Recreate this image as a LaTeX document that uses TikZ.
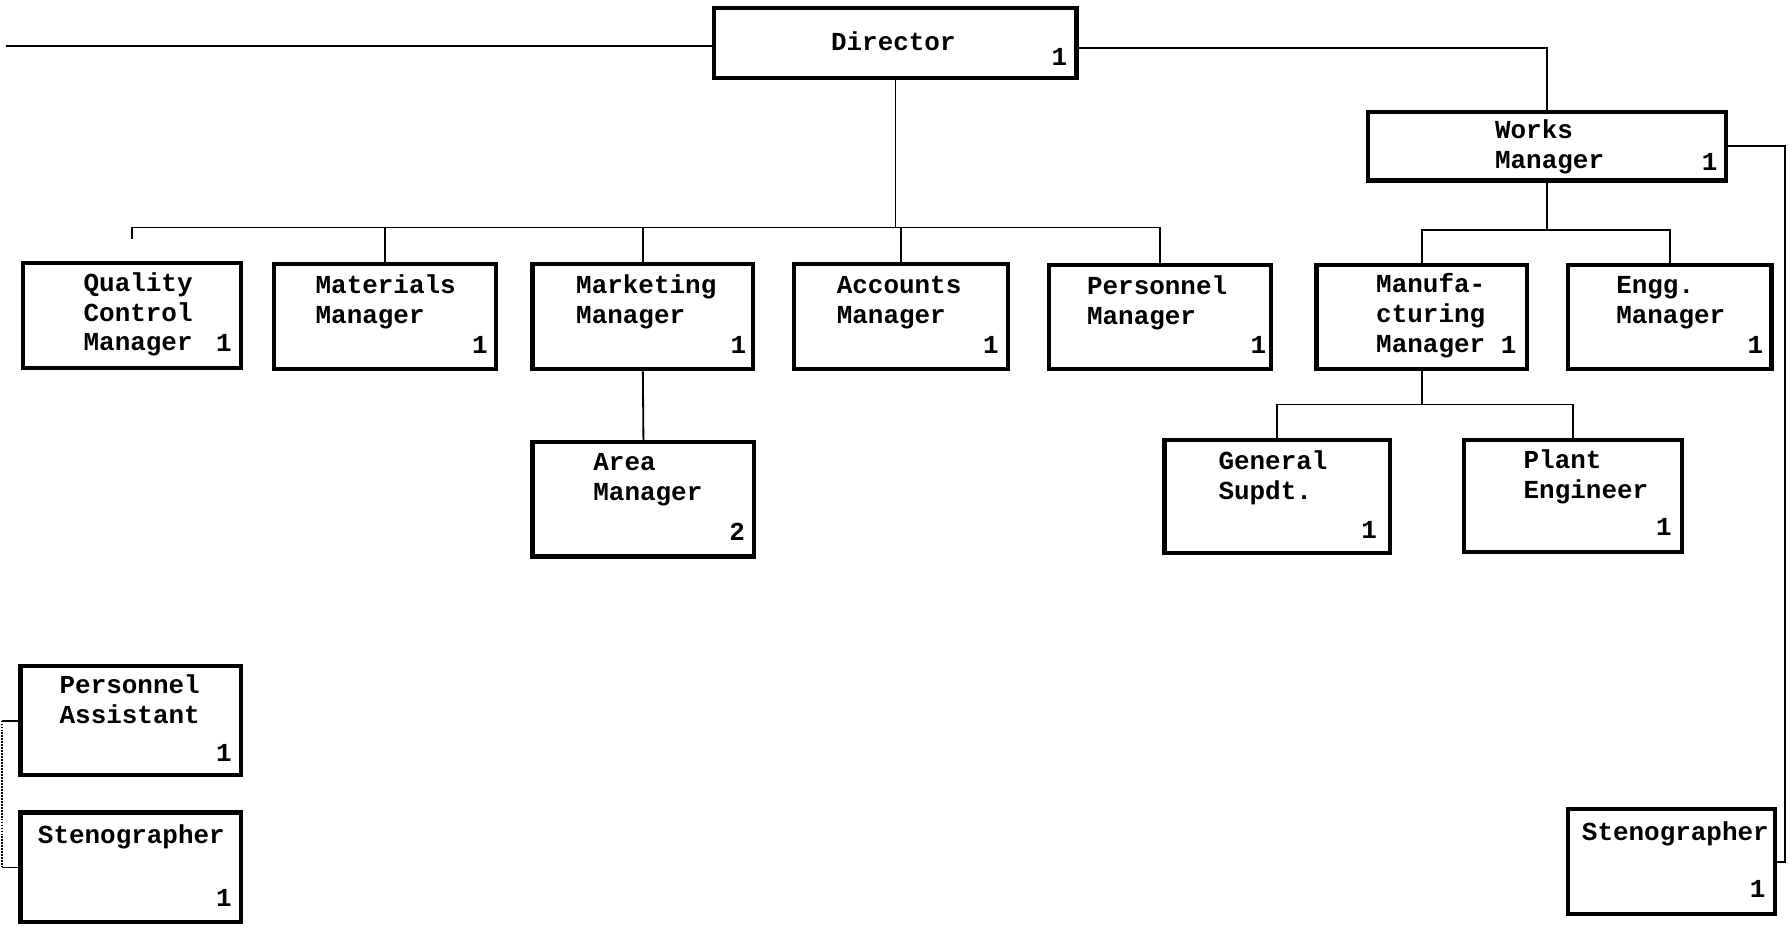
\documentclass[tikz,border=0pt]{standalone}
\usepackage{fontspec}
\setmonofont{Liberation Mono}
\begin{document}
\begin{tikzpicture}[x=1pt,y=-1pt,
  box/.style={draw, line width=3.8pt, inner sep=0pt},
  conn/.style={line width=1.6pt},
  txt/.style={font=\ttfamily\bfseries\fontsize{22.7}{26}\selectfont, inner sep=0pt, anchor=base west, align=left},
  cnt/.style={font=\ttfamily\bfseries\fontsize{22.7}{26}\selectfont, inner sep=0pt}]
\useasboundingbox[fill=white] (0,0) rectangle (1568,815);
% boxes
\node[box, minimum width=317, minimum height=61] (dir) at (783.5,37.5) {};
\node[box, minimum width=313, minimum height=60] (wm) at (1353.5,128) {};
\node[box, minimum width=191, minimum height=92] (qc) at (115.5,276) {};
\node[box, minimum width=194, minimum height=92] (mat) at (337,277) {};
\node[box, minimum width=193, minimum height=92] (mkt) at (562.5,277) {};
\node[box, minimum width=187, minimum height=92] (acc) at (788.5,277) {};
\node[box, minimum width=194, minimum height=91] (per) at (1015,277.5) {};
\node[box, minimum width=184, minimum height=91] (mfg) at (1244,277.5) {};
\node[box, minimum width=178, minimum height=91] (eng) at (1461,277.5) {};
\node[box, minimum width=194, minimum height=100] (area) at (563,437) {};
\node[box, minimum width=197, minimum height=99] (gen) at (1117.5,434.5) {};
\node[box, minimum width=191, minimum height=98] (plant) at (1376.5,434) {};
\node[box, minimum width=193, minimum height=95] (pa) at (114.5,630.5) {};
\node[box, minimum width=193, minimum height=96] (stl) at (114.5,759) {};
\node[box, minimum width=181, minimum height=92] (str) at (1462.5,754) {};
% texts (base anchor = baseline of last line)
\node[txt] (tdir) at (727,44) {Director};
\node[cnt] (cdir) at (927,50) {1};
\node[txt] (twm) at (1308,147) {Works\\Manager};
\node[cnt] (cwm) at (1496,142) {1};
\node[txt] (tqc) at (73,307) {Quality\\Control\\Manager};
\node[cnt] (cqc) at (196,300) {1};
\node[txt] (tmat) at (276,283) {Materials\\Manager};
\node[cnt] (cmat) at (420,302) {1};
\node[txt] (tmkt) at (504,283) {Marketing\\Manager};
\node[cnt] (cmkt) at (646,302) {1};
\node[txt] (tacc) at (732,283) {Accounts\\Manager};
\node[cnt] (cacc) at (867,302) {1};
\node[txt] (tper) at (951,284) {Personnel\\Manager};
\node[cnt] (cper) at (1101,302) {1};
\node[txt] (tmfg) at (1204,308) {Manufa-\\cturing\\Manager};
\node[cnt] (cmfg) at (1320,302) {1};
\node[txt] (teng) at (1414,283) {Engg.\\Manager};
\node[cnt] (ceng) at (1536,302) {1};
\node[txt] (tarea) at (519,438) {Area\\Manager};
\node[cnt] (carea) at (645,465) {2};
\node[txt] (tgen) at (1066,437) {General\\Supdt.};
\node[cnt] (cgen) at (1198,464) {1};
\node[txt] (tplant) at (1333,436) {Plant\\Engineer};
\node[cnt] (cplant) at (1456,461) {1};
\node[txt] (tpa) at (52,633) {Personnel\\Assistant};
\node[cnt] (cpa) at (196,659) {1};
\node[txt] (tstl) at (33,738) {Stenographer};
\node[cnt] (cstl) at (196,786) {1};
\node[txt] (tstr) at (1384,735) {Stenographer};
\node[cnt] (cstr) at (1538,778) {1};
% connectors
\coordinate (dl) at (5,40);
\draw[conn] (dl) -- (dl -| dir.west);
\draw[conn] ([yshift=-4.5pt]dir.east) -| (wm.north);
\coordinate (bus1) at (0,199);
\draw[conn] (dir.south) -- (dir.south |- bus1);
\draw[conn] ([yshift=19pt]qc.north) |- (bus1 -| per.north) -- (per.north);
\draw[conn] (mat.north) -- (mat.north |- bus1);
\draw[conn] (mkt.north) -- (mkt.north |- bus1);
\draw[conn] (acc.north) -- (acc.north |- bus1);
\draw[conn] (mkt.south) -- (area.north);
\coordinate (bus2) at (0,201);
\draw[conn] (wm.south) -- (wm.south |- bus2);
\draw[conn] (mfg.north) |- (bus2 -| eng.north) -- (eng.north);
\coordinate (bus3) at (0,354);
\draw[conn] (mfg.south) -- (mfg.south |- bus3);
\draw[conn] (gen.north) |- (bus3 -| plant.north) -- (plant.north);
\coordinate (rr) at (1562,0);
\draw[conn] (wm.east) -| (rr |- str.east) -- (str.east);
\coordinate (ll) at (1.5,0);
\draw[conn] (ll |- pa.west) -- (pa.west);
\draw[conn] (ll |- stl.west) -- (stl.west);
\draw[conn, densely dotted] (ll |- pa.west) -- (ll |- stl.west);
\end{tikzpicture}
\end{document}
